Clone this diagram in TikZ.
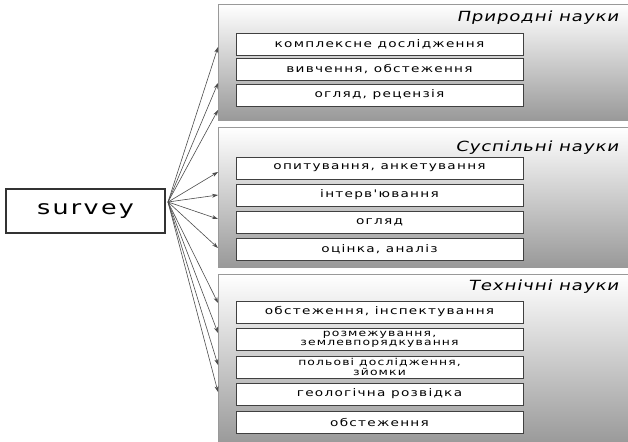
\documentclass[tikz,border=0pt]{standalone}
\usepackage{fontspec}
\setmainfont{DejaVu Sans}
\newfontfamily\widefont[FakeStretch=1.3, LetterSpace=12]{DejaVu Sans}
\newfontfamily\widefontit[FakeStretch=1.3, LetterSpace=6, FakeSlant=0.2]{DejaVu Sans}
\usetikzlibrary{arrows.meta}
\begin{document}
\begin{tikzpicture}[x=1pt, y=-1pt, >={Stealth[length=6pt, width=4pt]},
    panel/.style={draw=gray!80, line width=0.8pt, top color=white, bottom color=gray!80,
      anchor=north west, minimum width=412pt, inner sep=0pt},
    item/.style={draw=black!75, fill=white, line width=0.8pt, minimum width=287pt,
      minimum height=22pt, inner sep=0pt, align=center,
      font=\widefont\fontsize{10.5}{10}\selectfont},
    twoline/.style={item, font=\widefont\fontsize{9.5}{9.2}\selectfont},
    title/.style={anchor=east, font=\widefontit\fontsize{14}{16}\selectfont},
    link/.style={->, draw=black!70, line width=0.6pt}]

\useasboundingbox (0,0) rectangle (628,441);

% panels
\node[panel, minimum height=116pt] (nat) at (218,4) {};
\node[panel, minimum height=140pt] (soc) at (218,127) {};
\node[panel, minimum height=170pt] (tech) at (218,274) {};

\node[title] (tnat) at (622,18) {Природні науки};
\node[title] (tsoc) at (622,148) {Суспільні науки};
\node[title] (ttech) at (622,287) {Технічні науки};

% survey
\node[draw=black!80, line width=1.2pt, minimum width=159pt, minimum height=44pt,
  font=\widefont\fontsize{19.5}{21}\selectfont] (survey) at (85.5,211) {survey};
\coordinate (src) at (168,202);

% items
\node[item] (n1) at (379.5,44) {комплексне дослідження};
\node[item] (n2) at (379.5,69) {вивчення, обстеження};
\node[item] (n3) at (379.5,95) {огляд, рецензія};

\node[item] (s1) at (379.5,168) {опитування, анкетування};
\node[item] (s2) at (379.5,195) {інтерв'ювання};
\node[item] (s3) at (379.5,222) {огляд};
\node[item] (s4) at (379.5,249) {оцінка, аналіз};

\node[item] (t1) at (379.5,312) {обстеження, інспектування};
\node[twoline] (t2) at (379.5,339) {розмежування,\\землевпорядкування};
\node[twoline] (t3) at (379.5,367) {польові дослідження,\\зйомки};
\node[item] (t4) at (379.5,394) {геологічна розвідка};
\node[item] (t5) at (379.5,422) {обстеження};

% arrows
\foreach \i/\y in {1/47, 2/83, 3/110, 4/172, 5/195, 6/219, 7/248, 8/303, 9/333, 10/365, 11/392}
  \coordinate (tip\i) at (218,\y);
\foreach \i in {1,...,11}
  \draw[link] (src) -- (tip\i);
\end{tikzpicture}
\end{document}
